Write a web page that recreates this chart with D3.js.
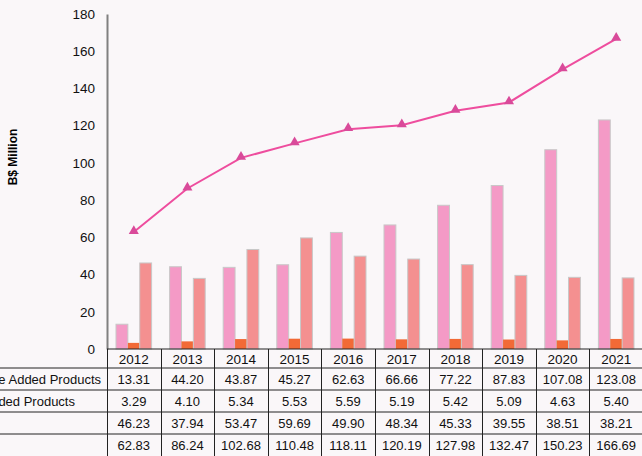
<html lang="en">
<head>
<meta charset="utf-8">
<script src="https://d3js.org/d3.v7.min.js"></script>
<style>
  body { margin: 0; background: #faf7f9; font-family: "Liberation Sans", Arial, sans-serif; }
  svg { display: block; }
</style>
</head>
<body>
<script>
// chart data
var years = ["2012","2013","2014","2015","2016","2017","2018","2019","2020","2021"];
var valueAdded = [13.31, 44.20, 43.87, 45.27, 62.63, 66.66, 77.22, 87.83, 107.08, 123.08];
var nonValueAdded = [3.29, 4.10, 5.34, 5.53, 5.59, 5.19, 5.42, 5.09, 4.63, 5.40];
var other = [46.23, 37.94, 53.47, 59.69, 49.90, 48.34, 45.33, 39.55, 38.51, 38.21];
var total = [62.83, 86.24, 102.68, 110.48, 118.11, 120.19, 127.98, 132.47, 150.23, 166.69];
var rowLabels = ["Value Added Products", "Non-Value Added Products", "", ""];
var yTicks = [0, 20, 40, 60, 80, 100, 120, 140, 160, 180];

var width = 642, height = 456;
var left = 107, colW = 53.6, zeroY = 349, topY = 14;

var svg = d3.select("body").append("svg")
    .attr("width", width).attr("height", height);

var x = d3.scaleBand().domain(years)
    .range([left, left + colW * years.length]);
var y = d3.scaleLinear().domain([0, 180]).range([zeroY, topY]);

var series = [
  { vals: valueAdded, fill: "#f49ac6" },
  { vals: nonValueAdded, fill: "#f26a36" },
  { vals: other, fill: "#f49090" }
];
var inner = d3.scaleBand().domain([0, 1, 2])
    .range([9, colW - 9]);

// y axis
var yAxis = d3.axisLeft(y).tickValues(yTicks).tickSize(0).tickPadding(12);
var ga = svg.append("g").attr("transform", "translate(" + left + ",0)").call(yAxis);
ga.select(".domain").attr("stroke", "#808080").attr("stroke-width", 2);
ga.selectAll("text").attr("font-size", 13.5).attr("fill", "#111")
    .attr("font-family", "Liberation Sans, Arial, sans-serif");

svg.append("text")
    .attr("transform", "translate(17," + 157 + ") rotate(-90)")
    .attr("text-anchor", "middle")
    .attr("font-size", 12).attr("font-weight", "bold")
    .text("B$ Million");

// bars
series.forEach(function (s, i) {
  svg.append("g").selectAll("rect")
    .data(s.vals)
    .enter().append("rect")
    .attr("x", function (d, j) { return x(years[j]) + inner(i); })
    .attr("y", function (d) { return y(d); })
    .attr("width", inner.bandwidth())
    .attr("height", function (d) { return zeroY - y(d); })
    .attr("fill", s.fill)
    .attr("stroke", i === 1 ? "none" : "#c8c8c8")
    .attr("stroke-width", 1);
});

// total line
var line = d3.line()
    .x(function (d, j) { return x(years[j]) + colW / 2; })
    .y(function (d) { return y(d); });
svg.append("path").datum(total)
    .attr("d", line)
    .attr("fill", "none")
    .attr("stroke", "#ee4d9e")
    .attr("stroke-width", 2);
svg.append("g").selectAll("path")
    .data(total).enter().append("path")
    .attr("d", d3.symbol().type(d3.symbolTriangle).size(44))
    .attr("transform", function (d, j) {
      return "translate(" + (x(years[j]) + colW / 2) + "," + (y(d) - 1) + ")";
    })
    .attr("fill", "#d94a9a");

// data table
var rows = [valueAdded, nonValueAdded, other, total];
var rowTops = [368, 390, 412, 434, 456];
var tbl = svg.append("g");
var lineColor = "#222";
var tableRight = left + colW * years.length;

tbl.append("line").attr("x1", left).attr("x2", tableRight)
    .attr("y1", zeroY).attr("y2", zeroY).attr("stroke", lineColor);
rowTops.slice(0, 4).forEach(function (ty) {
  tbl.append("line").attr("x1", 0).attr("x2", tableRight)
      .attr("y1", ty).attr("y2", ty).attr("stroke", lineColor);
});
years.concat(["end"]).forEach(function (yr, j) {
  var lx = Math.round(left + colW * j) + 0.5;
  tbl.append("line").attr("x1", lx).attr("x2", lx)
      .attr("y1", zeroY).attr("y2", height).attr("stroke", lineColor);
});

tbl.selectAll("text.year").data(years).enter().append("text")
    .attr("class", "year")
    .attr("x", function (d) { return x(d) + colW / 2; })
    .attr("y", (zeroY + rowTops[0]) / 2 + 5)
    .attr("text-anchor", "middle").attr("font-size", 13.5).attr("fill", "#111")
    .text(function (d) { return d; });

var labelX = [101, 75, 101, 101];
rows.forEach(function (vals, r) {
  var cy = (rowTops[r] + rowTops[r + 1]) / 2 + 5;
  tbl.append("text").attr("x", labelX[r]).attr("y", cy)
      .attr("text-anchor", "end").attr("font-size", 13).attr("fill", "#111")
      .text(rowLabels[r]);
  tbl.append("g").selectAll("text").data(vals).enter().append("text")
      .attr("x", function (d, j) { return x(years[j]) + colW / 2; })
      .attr("y", cy)
      .attr("text-anchor", "middle").attr("font-size", 13).attr("fill", "#111")
      .text(function (d) { return d.toFixed(2); });
});
</script>
</body>
</html>
